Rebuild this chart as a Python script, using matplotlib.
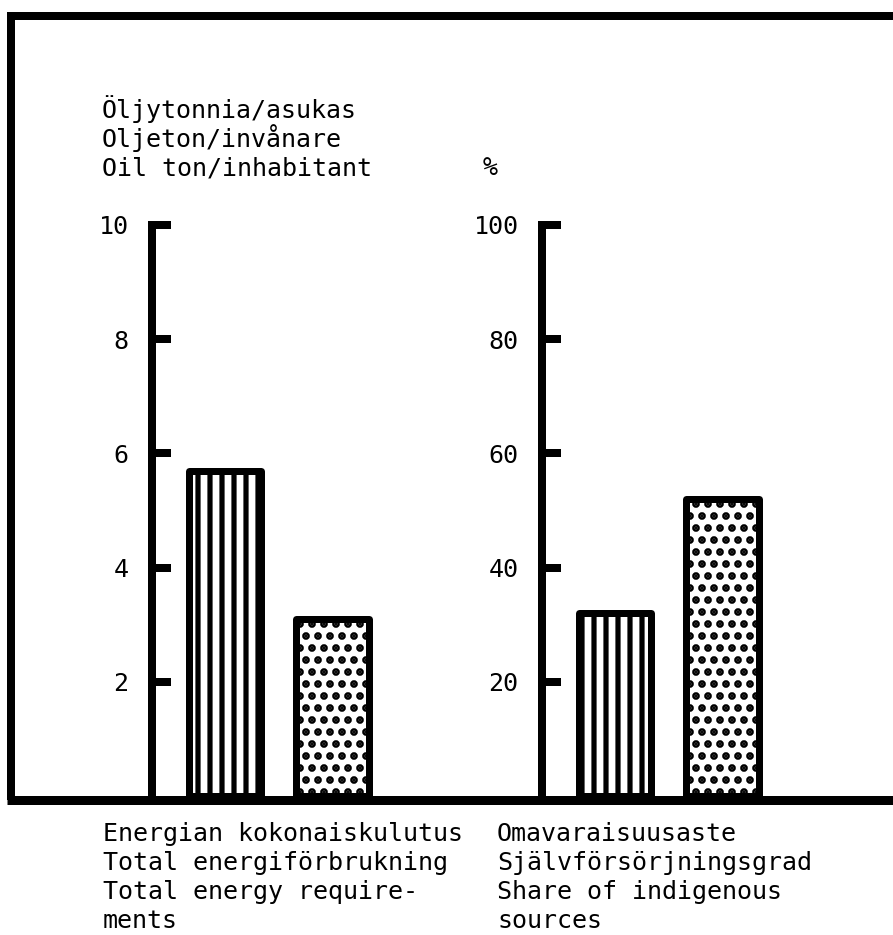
import matplotlib
matplotlib.use('Agg')
import matplotlib.pyplot as plt

# 数据
left_values = [5.7, 3.1]          # Oil ton / inhabitant
right_values = [32, 52]           # %
bar_hatches = ['|', '.']
left_ticks = [2, 4, 6, 8, 10]
right_ticks = [20, 40, 60, 80, 100]
left_unit_lines = ['Öljytonnia/asukas', 'Oljeton/invånare', 'Oil ton/inhabitant']
right_unit = '%'
left_label_lines = ['Energian kokonaiskulutus', 'Total energiförbrukning',
                    'Total energy require-', 'ments']
right_label_lines = ['Omavaraisuusaste', 'Självförsörjningsgrad',
                     'Share of indigenous', 'sources']

W, H = 893, 935      # 像素
DPI = 72             # 1 pt = 1 px
FONT = 'DejaVu Sans Mono'

plt.rcParams['hatch.linewidth'] = 5.2
plt.rcParams['font.family'] = FONT

fig = plt.figure(figsize=(W / DPI, H / DPI), dpi=DPI)
fig.patch.set_facecolor('white')

# 背景坐标系（像素坐标）：外框和文字
bg = fig.add_axes([0, 0, 1, 1])
bg.set_xlim(0, W)
bg.set_ylim(H, 0)
bg.axis('off')
bg.plot([7, W], [16, 16], color='black', lw=8, solid_capstyle='butt')
bg.plot([11, 11], [12, 800], color='black', lw=8, solid_capstyle='butt')
bg.plot([7, W], [800, 800], color='black', lw=9, solid_capstyle='butt')

for i, line in enumerate(left_unit_lines):
    bg.text(102, 118 + i * 28.5, line, fontsize=25, va='baseline', ha='left')
bg.text(483, 175, right_unit, fontsize=25, va='baseline', ha='left')

for i, line in enumerate(left_label_lines):
    bg.text(103, 841 + i * 29, line, fontsize=25, va='baseline', ha='left')
for i, line in enumerate(right_label_lines):
    bg.text(497, 841 + i * 29, line, fontsize=25, va='baseline', ha='left')

# 两个柱状图面板
y0, y_top = 796, 225       # 0 和最大刻度的像素位置
unit_px = 107.7            # x 方向一个单位的像素
xmin, xmax = -0.68, 1.7


def panel(axis_x, values, ticks):
    width = (xmax - xmin) * unit_px
    ax = fig.add_axes([axis_x / W, (H - y0) / H, width / W, (y0 - y_top) / H])
    ax.set_facecolor('none')
    ax.set_xlim(xmin, xmax)
    ax.set_ylim(0, ticks[-1])
    ax.bar(range(len(values)), values, width=0.67, color='white',
           edgecolor='black', linewidth=7, hatch=bar_hatches,
           joinstyle='round')
    for s in ['top', 'right', 'bottom']:
        ax.spines[s].set_visible(False)
    ax.spines['left'].set_linewidth(8)
    ax.set_xticks([])
    ax.set_yticks(ticks)
    ax.set_yticklabels([str(t) for t in ticks])
    ax.tick_params(axis='y', direction='in', length=19, width=8, pad=23,
                   labelsize=25, colors='black')
    return ax


panel(151.5, left_values, left_ticks)
panel(541.5, right_values, right_ticks)

fig.savefig('out.png', dpi=DPI)
